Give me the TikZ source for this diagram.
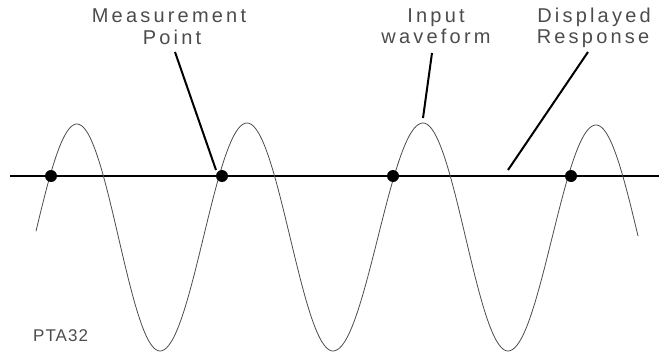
\documentclass[tikz,border=0pt]{standalone}
\usepackage{fontspec}
\newfontfamily\plotfont[LetterSpace=16]{Liberation Sans}
\newfontfamily\plotfontb[LetterSpace=6]{Liberation Sans}
\begin{document}
\begin{tikzpicture}[x=1pt,y=-1pt,
  wave/.style={draw=black!70, line width=0.8pt, line join=round},
  leader/.style={draw=black, line width=2pt},
  axisline/.style={draw=black, line width=1.8pt},
  dot/.style={circle, fill=black, inner sep=0pt, minimum size=12pt},
  lbl/.style={text=black!70, font=\plotfont\fontsize{20}{24}\selectfont, anchor=base, inner sep=0pt},
  tag/.style={text=black!70, font=\plotfontb\fontsize{17}{20}\selectfont, anchor=base west, inner sep=0pt}]
\useasboundingbox (0,0) rectangle (659,356);
% horizontal response line
\coordinate (L0) at (10,176);
\coordinate (L1) at (659,176);
\draw[axisline] (L0) -- (L1);
% waveform: cosine segments between extremes
\foreach \xa/\ya/\xb/\yb/\xs/\xe in {
  -8/351/77/124/36/77,
  77/124/160/351/77/160,
  160/351/247/123/160/247,
  247/123/333/351/247/333,
  333/351/423/123/333/423,
  423/123/508/351/423/508,
  508/351/596/125/508/596,
  596/125/681/351/596/638}{
  \draw[wave] plot[domain=\xs:\xe, samples=40, smooth]
    (\x, {(\ya+\yb)/2 + (\ya-\yb)/2*cos(180*(\x-\xa)/(\xb-\xa))});
}
% measurement points
\node[dot] (d1) at (51,176) {};
\node[dot] (d2) at (222,176) {};
\node[dot] (d3) at (393,176) {};
\node[dot] (d4) at (571,176) {};
% labels
\node[lbl] (m1) at (169,22) {Measurement};
\node[lbl] (m2) at (172,45) {Point};
\node[lbl] (i1) at (436,22.5) {Input};
\node[lbl] (i2) at (436,43.5) {waveform};
\node[lbl] (r1) at (594,22.5) {Displayed};
\node[lbl] (r2) at (593,43.5) {Response};
\node[tag] (tag) at (33,341) {PTA32};
% leader lines
\coordinate (m2s) at (175,52);
\coordinate (m2e) at (216,170);
\coordinate (i2s) at (432,53);
\coordinate (i2e) at (423,118);
\coordinate (r2s) at (588,52);
\coordinate (r2e) at (508,170);
\draw[leader] (m2s) -- (m2e);
\draw[leader] (i2s) -- (i2e);
\draw[leader] (r2s) -- (r2e);
\end{tikzpicture}
\end{document}
